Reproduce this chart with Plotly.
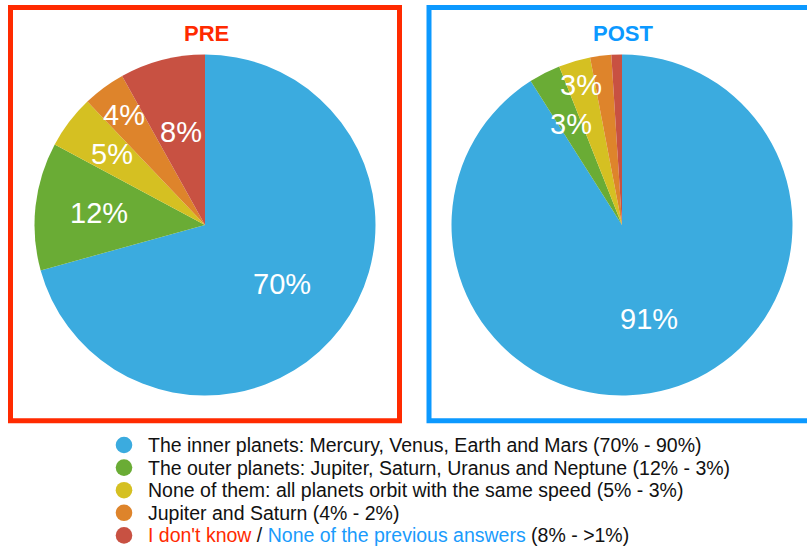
import math
import plotly.graph_objects as go

# ---------------- data ----------------
categories = [
    "The inner planets",
    "The outer planets",
    "None of them",
    "Jupiter and Saturn",
    "I don't know / None of the previous answers",
]
pre_values = [70, 12, 5, 4, 8]
post_values = [91, 3, 3, 2, 1]
pre_labels = ["70%", "12%", "5%", "4%", "8%"]
post_labels = ["91%", "3%", "3%", "", ""]
legend_texts = [
    "The inner planets: Mercury, Venus, Earth and Mars (70% - 90%)",
    "The outer planets: Jupiter, Saturn, Uranus and Neptune (12% - 3%)",
    "None of them: all planets orbit with the same speed (5% - 3%)",
    "Jupiter and Saturn (4% - 2%)",
    "<span style='color:#FF2A00'>I don't know</span> / "
    "<span style='color:#1A9BFC'>None of the previous answers</span> (8% - &gt;1%)",
]

# ---------------- styles / layout ----------------
W, H = 807, 548
colors = ["#3BABDF", "#6AAC35", "#D5C022", "#DE842B", "#C85142"]
RED = "#FF2A00"
BLUE = "#0C99FF"
FONT = "Liberation Sans, Arial, Helvetica, sans-serif"

R = 170.5
pre_center = (205, 225)
post_center = (622, 225)
pre_label_r = [0.567, 0.624, 0.689, 0.80, 0.563]
post_label_r = [0.575, 0.664, 0.854, 0.8, 0.8]


def px(x):
    return x / W


def py(y):
    return 1 - y / H


def domain(c):
    return dict(x=[px(c[0] - R), px(c[0] + R)], y=[py(c[1] + R), py(c[1] - R)])


fig = go.Figure()
for vals, c in ((pre_values, pre_center), (post_values, post_center)):
    fig.add_trace(go.Pie(
        labels=categories, values=vals, sort=False, direction="clockwise",
        rotation=0, domain=domain(c), textinfo="none", hoverinfo="label+value",
        marker=dict(colors=colors, line=dict(width=0)), showlegend=False,
    ))

annotations = []
# slice labels, placed at the mid-angle of each slice
for vals, labels, rf, c in ((pre_values, pre_labels, pre_label_r, pre_center),
                            (post_values, post_labels, post_label_r, post_center)):
    total = sum(vals)
    cum = 0
    for v, lab, f in zip(vals, labels, rf):
        mid = (cum + v / 2) / total * 2 * math.pi
        cum += v
        if not lab:
            continue
        x = c[0] + R * f * math.sin(mid)
        y = c[1] - R * f * math.cos(mid)
        annotations.append(dict(
            x=px(x), y=py(y), xref="paper", yref="paper", text=lab,
            showarrow=False, xanchor="center", yanchor="middle",
            font=dict(family=FONT, size=29, color="white"),
        ))

# titles
for t, col, c in (("<b>PRE</b>", RED, pre_center), ("<b>POST</b>", BLUE, post_center)):
    annotations.append(dict(
        x=px(c[0] + 1), y=py(33), xref="paper", yref="paper", text=t,
        showarrow=False, xanchor="center", yanchor="middle",
        font=dict(family=FONT, size=22, color=col),
    ))

# legend (custom: circle markers + text)
shapes = []
leg_x, leg_y0, leg_dy = 124, 445, 22.6
for i, (txt, col) in enumerate(zip(legend_texts, colors)):
    yy = leg_y0 + i * leg_dy
    shapes.append(dict(
        type="circle", xref="paper", yref="paper",
        x0=px(leg_x - 8.3), x1=px(leg_x + 8.3), y0=py(yy + 8.3), y1=py(yy - 8.3),
        fillcolor=col, line=dict(width=0),
    ))
    annotations.append(dict(
        x=px(146), y=py(yy), xref="paper", yref="paper", text=txt,
        showarrow=False, xanchor="left", yanchor="middle",
        font=dict(family=FONT, size=19.5, color="#111111"),
    ))

# frames
shapes.append(dict(type="rect", xref="paper", yref="paper",
                   x0=px(10.5), x1=px(399.5), y0=py(420.8), y1=py(7.5),
                   line=dict(color=RED, width=5)))
shapes.append(dict(type="rect", xref="paper", yref="paper",
                   x0=px(429), x1=px(814), y0=py(420.8), y1=py(7.5),
                   line=dict(color=BLUE, width=5)))

fig.update_layout(
    width=W, height=H, margin=dict(l=0, r=0, t=0, b=0),
    paper_bgcolor="white", plot_bgcolor="white",
    annotations=annotations, shapes=shapes, showlegend=False,
)

fig.write_html(
    "out.html",
    config={"displayModeBar": False},
    post_script="document.body.style.margin='0';document.body.style.overflow='hidden';",
)
